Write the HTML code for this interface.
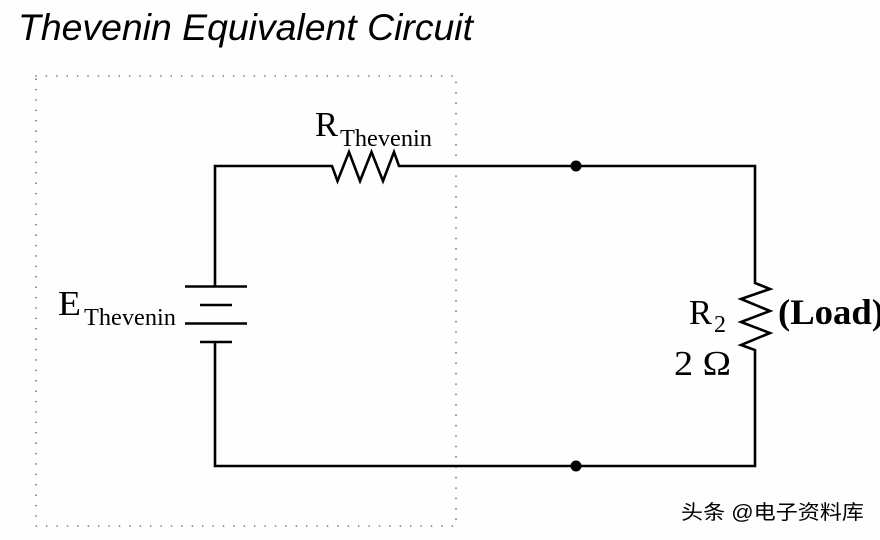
<!DOCTYPE html>
<html>
<head>
<meta charset="utf-8">
<style>
html,body{margin:0;padding:0;background:#fefefe;width:880px;height:540px;overflow:hidden}
svg{display:block}
text{fill:#000}
.s{font-family:"Liberation Serif",serif}
</style>
</head>
<body>
<svg width="880" height="540" viewBox="0 0 880 540" xmlns="http://www.w3.org/2000/svg">
<rect width="880" height="540" fill="#fefefe"/>
<text x="18" y="40" font-family="Liberation Sans, sans-serif" font-style="italic" font-size="37" textLength="455" lengthAdjust="spacingAndGlyphs" fill="#111">Thevenin Equivalent Circuit</text>
<rect x="36" y="76" width="420" height="450" fill="none" stroke="#666" stroke-width="1.6" stroke-linecap="round" stroke-dasharray="0.1 10.3"/>
<g fill="none" stroke="#000" stroke-width="2.6" stroke-linejoin="miter">
<polyline points="215,287 215,166 332,166 337.500,181 349,152 360,181 371.500,152 383,181 394,152 399,166 755,166 755,283 770,289 741,299 770,311 741,322 770,333 741,345 755,350 755,466 215,466 215,342"/>
<line x1="185" y1="286.500" x2="247" y2="286.500"/>
<line x1="200" y1="305" x2="232" y2="305"/>
<line x1="185" y1="323.500" x2="247" y2="323.500"/>
<line x1="200" y1="342" x2="232" y2="342"/>
</g>
<circle cx="576" cy="166" r="5.500" fill="#000"/>
<circle cx="576" cy="466" r="5.500" fill="#000"/>
<text class="s" x="315" y="136" font-size="35" textLength="23" lengthAdjust="spacingAndGlyphs">R</text>
<text class="s" x="340" y="146" font-size="24" textLength="92" lengthAdjust="spacingAndGlyphs">Thevenin</text>
<text class="s" x="58" y="315" font-size="35" textLength="23" lengthAdjust="spacingAndGlyphs">E</text>
<text class="s" x="84" y="325" font-size="24" textLength="92" lengthAdjust="spacingAndGlyphs">Thevenin</text>
<text class="s" x="689" y="324" font-size="35" textLength="23" lengthAdjust="spacingAndGlyphs">R</text>
<text class="s" x="714" y="332" font-size="24">2</text>
<text class="s" x="674" y="375" font-size="35" textLength="57" lengthAdjust="spacingAndGlyphs">2 Ω</text>
<text class="s" x="778" y="324" font-size="36" font-weight="bold" textLength="106" lengthAdjust="spacingAndGlyphs">(Load)</text>
<text x="681" y="519" font-family="Liberation Sans, 'Noto Sans CJK SC', sans-serif" font-size="20" textLength="183" lengthAdjust="spacingAndGlyphs" fill="#222">头条 @电子资料库</text>
</svg>
</body>
</html>
